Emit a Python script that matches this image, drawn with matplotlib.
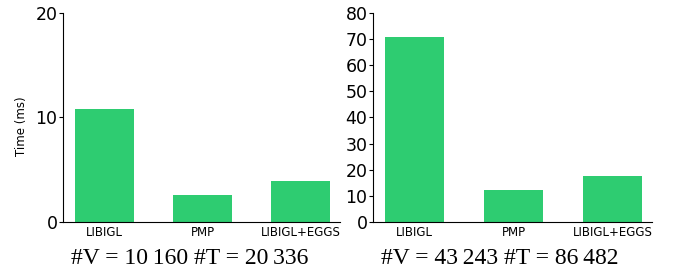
import matplotlib
matplotlib.use("Agg")
import matplotlib.pyplot as plt

methods = ["LIBIGL", "PMP", "LIBIGL+EGGS"]
times_small = [10.8, 2.6, 3.9]
times_large = [70.9, 12.3, 17.6]
captions = ["#V = 10\u2009160 #T = 20\u2009336", "#V = 43\u2009243 #T = 86\u2009482"]

color = "#2ecc71"

fig = plt.figure(figsize=(6.76, 2.74), dpi=100)
ax1 = fig.add_axes([63/676, 52/274, 277/676, 209/274])
ax2 = fig.add_axes([373/676, 52/274, 279/676, 209/274])

for ax, vals, ylim, ticks in [(ax1, times_small, 20, [0, 10, 20]),
                              (ax2, times_large, 80, range(0, 81, 10))]:
    x = range(len(methods))
    ax.bar(x, vals, width=0.6, color=color)
    ax.set_xlim(-0.42, 2.4)
    ax.set_ylim(0, ylim)
    ax.set_yticks(list(ticks))
    ax.set_xticks(list(x))
    ax.set_xticklabels(methods, fontsize=8.5)
    ax.tick_params(axis="x", length=0, pad=3)
    ax.tick_params(axis="y", labelsize=12.5, length=3, pad=1)
    ax.spines["top"].set_visible(False)
    ax.spines["right"].set_visible(False)

# captions under each panel
fig.text(190/676, 1 - 259/274, captions[0], ha="center", va="center",
         fontsize=17, family="Liberation Serif")
fig.text(500/676, 1 - 259/274, captions[1], ha="center", va="center",
         fontsize=17, family="Liberation Serif")

ax1.set_ylabel("Time (ms)", fontsize=8.5)
ax1.yaxis.set_label_coords(-0.125, 0.46)

fig.savefig("out.png", dpi=100)
